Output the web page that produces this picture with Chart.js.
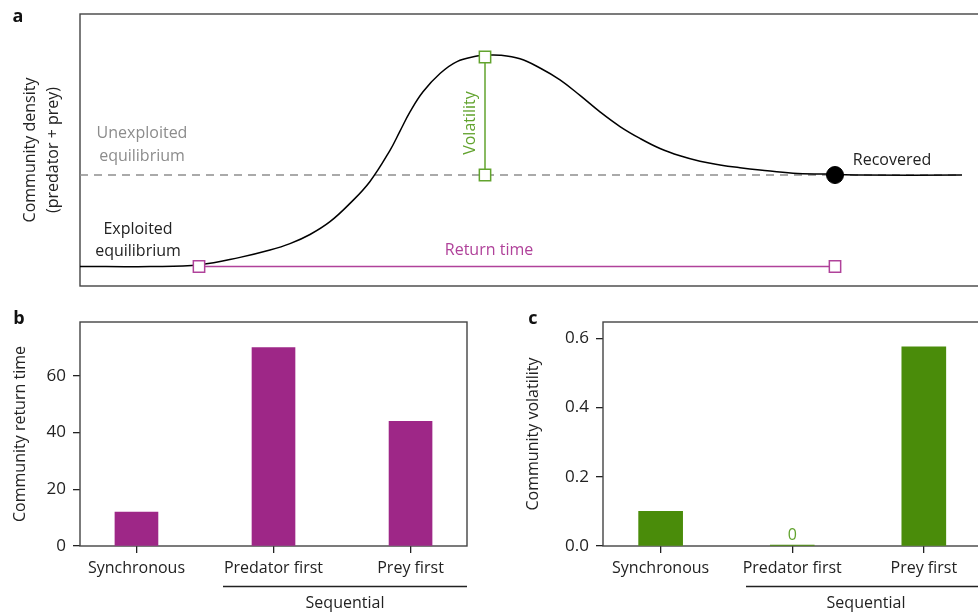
<!DOCTYPE html>
<html>
<head>
<meta charset="utf-8">
<title>Community recovery</title>
<script src="https://cdn.jsdelivr.net/npm/chart.js@4.4.0/dist/chart.umd.min.js"></script>
<style>
	html, body { margin: 0; padding: 0; background: #fff; overflow: hidden; width: 978px; height: 614px; }
	.panel { position: absolute; }
	.panel canvas { display: block; }
	#panel-a { left: 0; top: 0; }
	#panel-b { left: 0; top: 300px; }
	#panel-c { left: 500px; top: 300px; }
</style>
</head>
<body>
<div class="panel" id="panel-a"><canvas id="chart-a" width="1000" height="300"></canvas></div>
<div class="panel" id="panel-b"><canvas id="chart-b" width="480" height="314"></canvas></div>
<div class="panel" id="panel-c"><canvas id="chart-c" width="500" height="314"></canvas></div>
<script>
// panel a: community density through time
const curveTime = [0, 7, 12, 16, 19, 21, 23, 25, 27, 29, 31, 32, 33, 34.3, 36, 37.7, 39.7, 40.5, 42, 44, 46, 48, 50, 52, 54, 56, 58, 60, 62, 64, 66, 68, 71.3, 74.7, 78, 88.2];
const curveDensity = [1.0, 1.0, 1.02, 1.10, 1.18, 1.25, 1.35, 1.49, 1.69, 1.93, 2.27, 2.48, 2.69, 2.91, 3.11, 3.24, 3.30, 3.31, 3.31, 3.27, 3.17, 3.04, 2.87, 2.69, 2.53, 2.40, 2.29, 2.21, 2.15, 2.11, 2.08, 2.055, 2.02, 2.01, 2.0, 2.0];
const exploitedLevel = 1.0;
const unexploitedLevel = 2.0;
const returnStart = 11.9;
const returnEnd = 75.5;
const peakTime = 40.5;
const peakDensity = 3.29;

// panels b and c
const categories = ['Synchronous', 'Predator first', 'Prey first'];
const returnTimes = [12, 70, 44];
const volatilities = [0.10, 0.003, 0.575];
const returnTicks = [0, 20, 40, 60];
const volatilityTicks = [0, 0.2, 0.4, 0.6];

const INK = '#222';
const FRAME = '#444';
const MAGENTA = '#9e2787';
const MAGENTA_LINE = '#b0429a';
const GREEN = '#4a8c0a';
const GREEN_LINE = '#62a32e';
const GREY = '#8c8c8c';

Chart.defaults.font.family = '"Open Sans", "Noto Sans", sans-serif';
Chart.defaults.font.size = 16;
Chart.defaults.color = INK;
Chart.defaults.animation = false;

function drawText(ctx, text, x, y, color, opts = {})
{
	ctx.save();
	ctx.fillStyle = color;
	ctx.font = opts.font || '16px "Open Sans", "Noto Sans", sans-serif';
	ctx.textAlign = opts.align || 'center';
	ctx.textBaseline = opts.baseline || 'middle';
	ctx.translate(x, y);
	if (opts.rotate)
	{
		ctx.rotate(opts.rotate);
	}
	ctx.fillText(text, 0, 0);
	ctx.restore();
}

function drawFrame(ctx, area)
{
	ctx.save();
	ctx.strokeStyle = FRAME;
	ctx.lineWidth = 1.4;
	ctx.strokeRect(area.left, area.top, area.right - area.left, area.bottom - area.top);
	ctx.restore();
}

const panelLetterFont = 'bold 18px "Open Sans", "Noto Sans", sans-serif';

const annotationsA = {
	id: 'annotationsA',
	beforeDatasetsDraw(chart) {
		drawFrame(chart.ctx, chart.chartArea);
	},
	afterDraw(chart) {
		const ctx = chart.ctx;
		drawText(ctx, 'a', 18, 22, '#111', {font: panelLetterFont, baseline: 'alphabetic'});
		drawText(ctx, 'Unexploited', 142, 133, GREY);
		drawText(ctx, 'equilibrium', 142, 156, GREY);
		drawText(ctx, 'Exploited', 138, 229, INK);
		drawText(ctx, 'equilibrium', 138, 251, INK);
		drawText(ctx, 'Return time', 489, 250, MAGENTA_LINE);
		drawText(ctx, 'Volatility', 470, 123, GREEN_LINE, {rotate: -Math.PI / 2});
		drawText(ctx, 'Recovered', 892, 160, INK);
	}
};

const markerStyle = {
	pointStyle: 'rect',
	pointRadius: 8,
	pointBorderWidth: 1.5,
	pointBackgroundColor: '#fff',
	borderWidth: 1.5,
};

new Chart(document.getElementById('chart-a'), {
	type: 'line',
	data: {
		datasets: [
			{
				data: [{x: returnEnd, y: unexploitedLevel}],
				showLine: false,
				pointRadius: 8.5,
				pointBackgroundColor: '#000',
				pointBorderColor: '#000',
			},
			Object.assign({
				data: [{x: returnStart, y: exploitedLevel}, {x: returnEnd, y: exploitedLevel}],
				borderColor: MAGENTA_LINE,
				pointBorderColor: MAGENTA_LINE,
			}, markerStyle),
			Object.assign({
				data: [{x: peakTime, y: unexploitedLevel}, {x: peakTime, y: peakDensity}],
				borderColor: GREEN_LINE,
				pointBorderColor: GREEN_LINE,
			}, markerStyle),
			{
				data: curveTime.map((t, i) => ({x: t, y: curveDensity[i]})),
				borderColor: '#000',
				borderWidth: 1.5,
				pointRadius: 0,
				tension: 0.4,
			},
			{
				data: [{x: 0, y: unexploitedLevel}, {x: curveTime[curveTime.length - 1], y: unexploitedLevel}],
				borderColor: '#8f8f8f',
				borderWidth: 1.4,
				borderDash: [8, 6],
				pointRadius: 0,
			},
		]
	},
	options: {
		responsive: false,
		layout: {padding: {top: 14, right: 10, bottom: 14, left: 0}},
		plugins: {legend: {display: false}, tooltip: {enabled: false}},
		scales: {
			x: {type: 'linear', min: 0, max: 91, display: false},
			y: {
				min: 0.787,
				max: 3.76,
				ticks: {display: false},
				grid: {display: false},
				border: {display: false},
				title: {
					display: true,
					text: ['Community density', '(predator + prey)'],
					font: {size: 16, lineHeight: 1.45},
					padding: {top: 19},
					color: INK,
				},
				afterFit(scale) { scale.width = 80; },
			}
		}
	},
	plugins: [annotationsA]
});

function makeBarChart(opts)
{
	const extras = {
		id: 'extras' + opts.letter,
		beforeDatasetsDraw(chart) {
			drawFrame(chart.ctx, chart.chartArea);
		},
		afterDraw(chart) {
			const ctx = chart.ctx;
			const area = chart.chartArea;
			drawText(ctx, opts.letter, opts.letterX, 24, '#111', {font: panelLetterFont, baseline: 'alphabetic'});
			ctx.save();
			ctx.strokeStyle = INK;
			ctx.lineWidth = 1.3;
			ctx.beginPath();
			ctx.moveTo(opts.bracketStart, 286.5);
			ctx.lineTo(area.right, 286.5);
			ctx.stroke();
			ctx.restore();
			drawText(ctx, 'Sequential', opts.sequentialX, 303, INK);
			if (opts.after)
			{
				opts.after(chart);
			}
		}
	};

	return new Chart(document.getElementById(opts.canvas), {
		type: 'bar',
		data: {
			datasets: [{
				data: opts.values.map((v, i) => ({x: i, y: v})),
				backgroundColor: opts.color,
				borderWidth: 0,
				barThickness: opts.barWidth,
			}]
		},
		options: {
			responsive: false,
			layout: {padding: {top: 22, right: opts.padRight, bottom: 0, left: 0}},
			plugins: {legend: {display: false}, tooltip: {enabled: false}},
			scales: {
				x: {
					type: 'linear',
					min: opts.xMin,
					max: opts.xMax,
					offset: false,
					grid: {offset: false, drawOnChartArea: false, tickLength: 7, color: INK, lineWidth: 1.3},
					border: {display: false},
					ticks: {
						autoSkip: false,
						maxRotation: 0,
						padding: 6,
						color: INK,
						callback: (value) => categories[value] ?? '',
					},
					afterBuildTicks(scale) { scale.ticks = categories.map((c, i) => ({value: i})); },
					afterFit(scale) { scale.height = 68; },
				},
				y: {
					min: 0,
					max: opts.yMax,
					grid: {drawOnChartArea: false, tickLength: 7, color: INK, lineWidth: 1.3},
					border: {display: false},
					ticks: {padding: 7, color: INK, font: {size: 17}, callback: opts.format},
					afterBuildTicks(scale) { scale.ticks = opts.ticks.map(v => ({value: v})); },
					title: {
						display: true,
						text: opts.title,
						font: {size: 16, lineHeight: 1.4},
						padding: {top: opts.titlePad},
						color: INK,
					},
					afterFit(scale) { scale.width = opts.axisWidth; },
				}
			}
		},
		plugins: [extras]
	});
}

makeBarChart({
	canvas: 'chart-b',
	letter: 'b',
	letterX: 19,
	values: returnTimes,
	color: MAGENTA,
	barWidth: 43,
	xMin: -0.412,
	xMax: 2.412,
	padRight: 13,
	yMax: 79,
	ticks: returnTicks,
	format: (v) => String(v),
	title: 'Community return time',
	titlePad: 9,
	axisWidth: 80,
	bracketStart: 223,
	sequentialX: 345,
});

makeBarChart({
	canvas: 'chart-c',
	letter: 'c',
	letterX: 33,
	values: volatilities,
	color: GREEN,
	barWidth: 44,
	xMin: -0.438,
	xMax: 2.579,
	padRight: 0,
	yMax: 0.647,
	ticks: volatilityTicks,
	format: (v) => v.toFixed(1),
	title: 'Community volatility',
	titlePad: 22,
	axisWidth: 103,
	bracketStart: 246,
	sequentialX: 366,
	after(chart) {
		const x = chart.scales.x.getPixelForValue(1);
		const y = chart.scales.y.getPixelForValue(volatilities[1]);
		drawText(chart.ctx, '0', x, y - 10, GREEN_LINE);
	}
});
</script>
</body>
</html>
